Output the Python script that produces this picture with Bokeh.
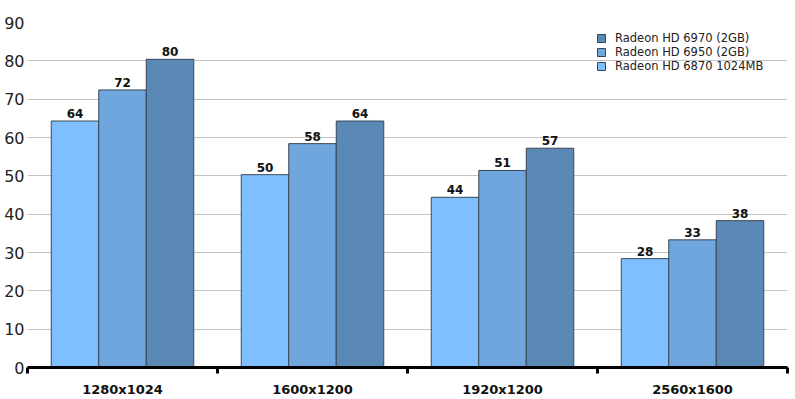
from bokeh.plotting import figure
from bokeh.models import (ColumnDataSource, FactorRange, LinearAxis, FixedTicker,
                          Legend, LegendItem)
from bokeh.transform import dodge
from bokeh.core.properties import value
from bokeh.embed import file_html
from bokeh.resources import INLINE

categories = ["1280x1024", "1600x1200", "1920x1200", "2560x1600"]
series_names = ["Radeon HD 6870 1024MB", "Radeon HD 6950 (2GB)", "Radeon HD 6970 (2GB)"]
hd6870 = [64.3, 50.3, 44.4, 28.4]
hd6950 = [72.4, 58.4, 51.4, 33.3]
hd6970 = [80.4, 64.3, 57.2, 38.3]
y_ticks = [0, 10, 20, 30, 40, 50, 60, 70, 80, 90]

colors = ["#80bfff", "#6fa6de", "#5b89b5"]
offsets = [-0.25, 0.0, 0.25]
FONT = "DejaVu Sans"

p = figure(
    width=795, height=399,
    x_range=FactorRange(factors=categories, range_padding=0, factor_padding=0),
    y_range=(0, 90),
    x_axis_type=None,
    output_backend="svg", toolbar_location=None,
    min_border_left=27, min_border_right=8, min_border_top=22, min_border_bottom=30,
    outline_line_color=None, background_fill_color="white",
)

data = {"cat": categories}
all_series = [hd6870, hd6950, hd6970]
renderers = []
for i, vals in enumerate(all_series):
    data[f"v{i}"] = vals
    data[f"t{i}"] = [f"{v:.0f}" for v in vals]
src = ColumnDataSource(data)

for i in range(len(all_series)):
    r = p.vbar(x=dodge("cat", offsets[i], range=p.x_range), top=f"v{i}", width=0.25,
               source=src, fill_color=colors[i], line_color="#3a4654", line_width=1)
    renderers.append(r)
    p.text(x=dodge("cat", offsets[i], range=p.x_range), y=f"v{i}", text=f"t{i}",
           source=src, text_align="center", text_baseline="bottom", y_offset=-3,
           text_font=value(FONT), text_font_style="bold", text_font_size="12px",
           text_color="#111111")

# y axis
p.yaxis.ticker = FixedTicker(ticks=y_ticks)
p.yaxis.axis_line_color = None
p.yaxis.major_tick_line_color = None
p.yaxis.major_tick_in = 0
p.yaxis.major_tick_out = 0
p.yaxis.minor_tick_line_color = None
p.yaxis.minor_tick_in = 0
p.yaxis.minor_tick_out = 0
p.yaxis.major_label_text_font = FONT
p.yaxis.major_label_text_font_size = "16px"
p.yaxis.major_label_text_color = "#222222"
p.yaxis.major_label_standoff = 3

p.ygrid.ticker = FixedTicker(ticks=y_ticks)
p.ygrid.grid_line_color = "#c4c4c4"
p.ygrid.grid_line_width = 1

# x axis: labels at category centres, ticks at category boundaries
centers = [i + 0.5 for i in range(len(categories))]
bounds = [float(i) for i in range(len(categories) + 1)]
xaxis = LinearAxis(
    ticker=FixedTicker(ticks=centers, minor_ticks=bounds),
    major_label_overrides={c: name for c, name in zip(centers, categories)},
    axis_line_color="black", axis_line_width=3,
    major_tick_line_color=None, major_tick_in=0, major_tick_out=0,
    minor_tick_line_color="black", minor_tick_line_width=3,
    minor_tick_in=0, minor_tick_out=6,
    major_label_text_font=FONT, major_label_text_font_style="bold",
    major_label_text_font_size="13px", major_label_text_color="#111111",
    major_label_standoff=8,
)
p.add_layout(xaxis, "below")

legend = Legend(
    items=[LegendItem(label=series_names[i], renderers=[renderers[i]]) for i in [2, 1, 0]],
    location=(569, 294),
    border_line_color=None, background_fill_alpha=0,
    padding=0, margin=0, spacing=0,
    glyph_width=10, glyph_height=10, label_height=10, label_standoff=9,
    label_text_font=FONT, label_text_font_size="11.5px", label_text_color="#222222",
)
p.add_layout(legend)

open("out.html", "w").write(file_html(p, INLINE))
